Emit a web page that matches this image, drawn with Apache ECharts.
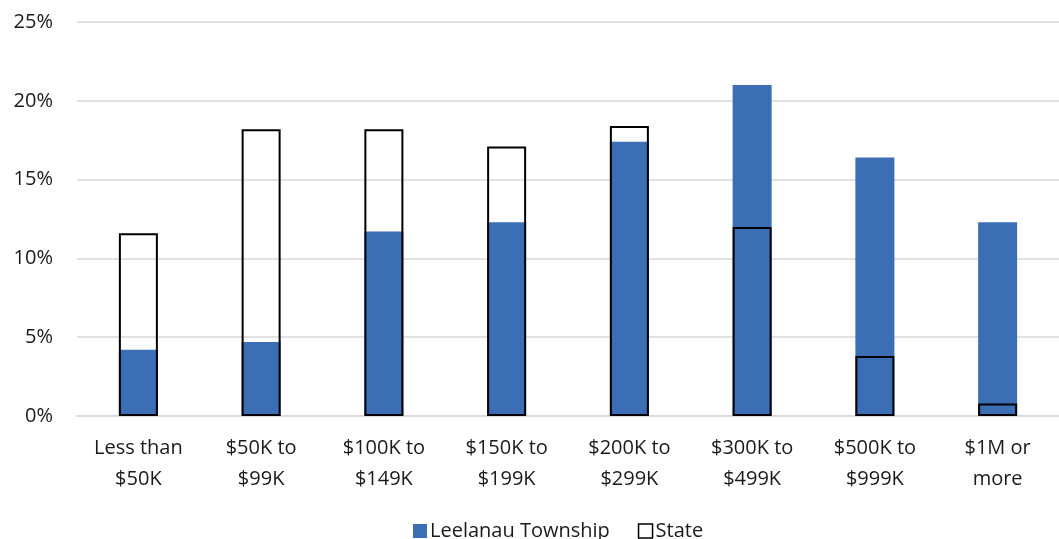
<!DOCTYPE html>
<html>
<head>
<meta charset="utf-8">
<script src="https://cdn.jsdelivr.net/npm/echarts@6/dist/echarts.min.js"></script>
<style>html,body{margin:0;padding:0;background:#fff}#c{width:1059px;height:539px}</style>
</head>
<body>
<div id="c"></div>
<script>
const categories = ['Less than\n$50K', '$50K to\n$99K', '$100K to\n$149K', '$150K to\n$199K', '$200K to\n$299K', '$300K to\n$499K', '$500K to\n$999K', '$1M or\nmore'];
const township = [4.2, 4.7, 11.7, 12.3, 17.4, 21.0, 16.4, 12.3];
const state = [11.6, 18.2, 18.2, 17.1, 18.4, 12.0, 3.8, 0.8];
const yTicks = { min: 0, max: 25, interval: 5 };

const font = 'Open Sans';
const txt = '#1a1a1a';
const chart = echarts.init(document.getElementById('c'));
chart.setOption({
  animation: false,
  backgroundColor: '#fff',
  grid: { left: 77, right: -8, top: 22, bottom: 123 },
  legend: {
    left: 408, top: 516,
    itemWidth: 14, itemHeight: 14, itemGap: 28,
    textStyle: { fontFamily: font, fontSize: 20, color: txt, padding: [0, 0, 0, -2] },
    data: [
      { name: 'Leelanau Township', icon: 'rect', itemStyle: { color: '#3B6EB4' } },
      { name: 'State', icon: 'rect', itemStyle: { color: '#fff', borderColor: '#000', borderWidth: 1.5 } }
    ]
  },
  xAxis: {
    type: 'category',
    data: categories,
    axisLine: { show: true, lineStyle: { color: '#d9d9d9', width: 1.5 } },
    axisTick: { show: false },
    axisLabel: { fontFamily: font, fontSize: 20, color: txt, lineHeight: 31, margin: 17, interval: 0 }
  },
  yAxis: {
    type: 'value',
    min: yTicks.min, max: yTicks.max, interval: yTicks.interval,
    axisLine: { show: false },
    axisTick: { show: false },
    splitLine: { lineStyle: { color: '#d9d9d9', width: 1.5 } },
    axisLabel: { fontFamily: font, fontSize: 20, color: txt, margin: 24, formatter: '{value}%' }
  },
  series: [
    {
      name: 'Leelanau Township', type: 'bar', data: township,
      barWidth: 39, barGap: '-100%',
      itemStyle: { color: '#3B6EB4' }
    },
    {
      name: 'State', type: 'bar', data: state,
      barWidth: 39, barGap: '-100%',
      itemStyle: { color: 'rgba(0,0,0,0)', borderColor: '#000', borderWidth: 2 }
    }
  ]
});
</script>
</body>
</html>
